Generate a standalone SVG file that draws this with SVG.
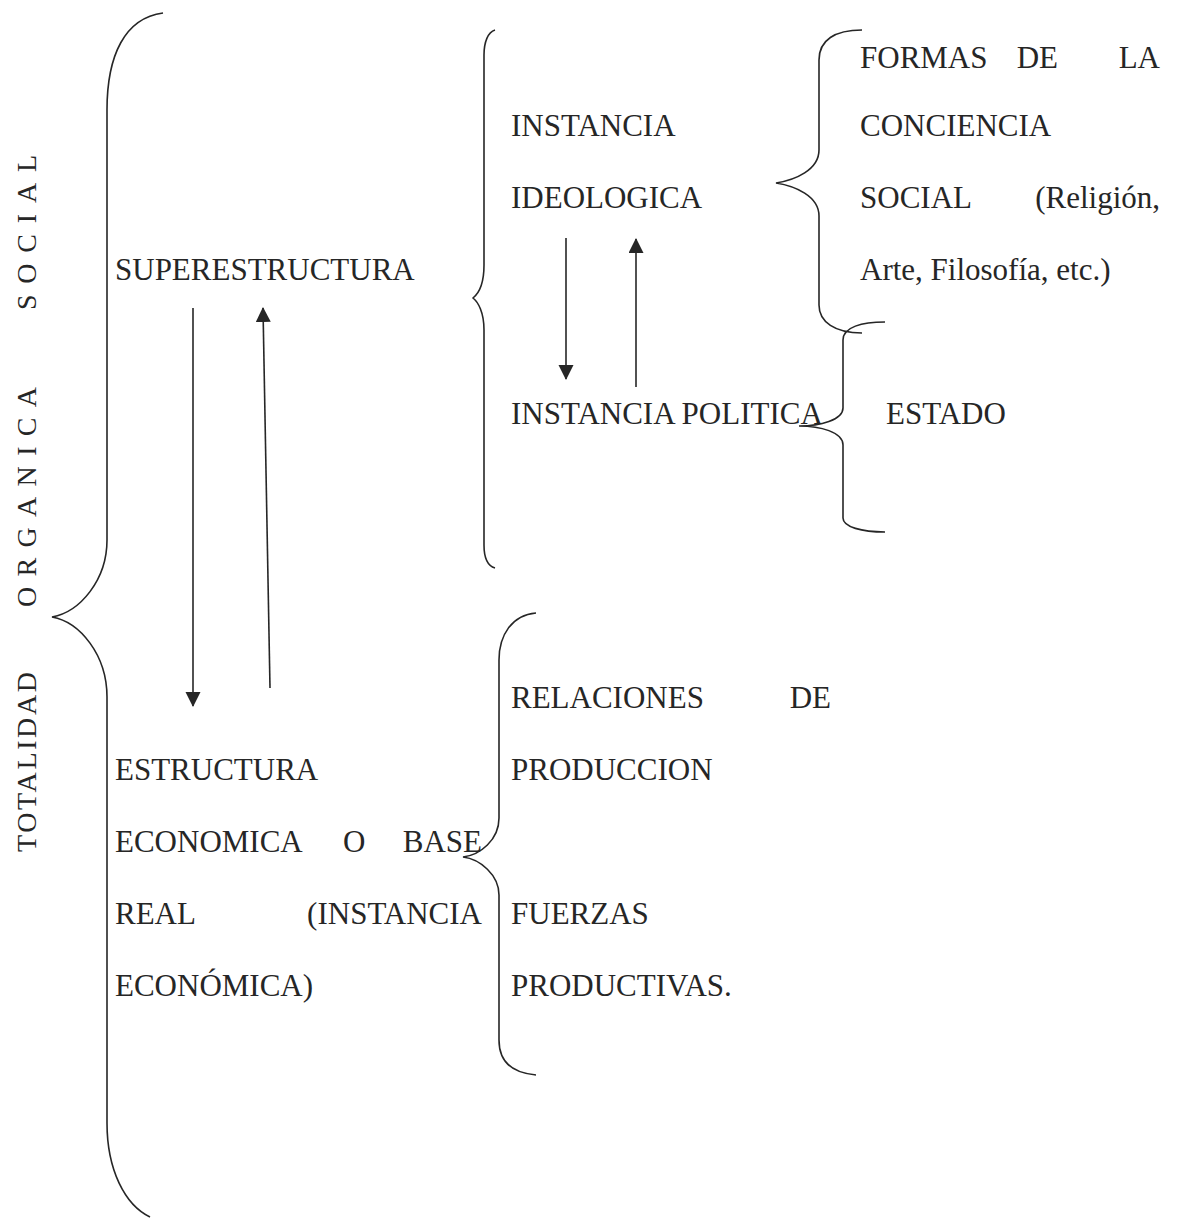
<svg xmlns="http://www.w3.org/2000/svg" width="1177" height="1218" viewBox="0 0 1177 1218">
<style>
  .t { font-family: "Liberation Serif", "Times New Roman", serif; font-size: 31px; fill: #262626; }
  .v { font-family: "Liberation Serif", "Times New Roman", serif; font-size: 28px; fill: #262626; }
  .br { fill: none; stroke: #262626; stroke-width: 1.6; }
  .ln { fill: none; stroke: #262626; stroke-width: 1.6; }
</style>
<defs>
  <marker id="ah" markerWidth="15" markerHeight="16" refX="14" refY="7.5" orient="auto" markerUnits="userSpaceOnUse">
    <path d="M0,0 L15,7.5 L0,15 Z" fill="#262626"/>
  </marker>
</defs>
<rect width="1177" height="1218" fill="#ffffff"/>

<g id="vertical-title">
  <text class="v" transform="rotate(-90)" x="-852" y="36" textLength="180" lengthAdjust="spacing">TOTALIDAD</text>
  <text class="v" transform="rotate(-90)" x="-607" y="36" textLength="220" lengthAdjust="spacing">ORGANICA</text>
  <text class="v" transform="rotate(-90)" x="-310" y="36" textLength="155" lengthAdjust="spacing">SOCIAL</text>
</g>

<g id="braces">
  <path id="brace-main" class="br" d="M163,13 C125,18 107,55 107,110 L107,540 C107,580 80,612 52,617 C80,622 107,655 107,697 L107,1123 C107,1170 125,1205 150,1217"/>
  <path id="brace-super" class="br" d="M495,30 C488,32 484,42 484,55 L484,265 C484,285 478,294 473,298 C478,302 484,312 484,330 L484,545 C484,558 488,566 495,568"/>
  <path id="brace-formas" class="br" d="M862,30 C835,30 819,40 819,60 L819,150 C819,170 795,180 776,183 C795,186 819,196 819,216 L819,305 C819,322 835,333 862,333"/>
  <path id="brace-estado" class="br" d="M885,322 C862,322 843,327 843,340 L843,408 C843,420 820,426 799,426 C820,426 843,432 843,445 L843,518 C843,527 862,532 885,532"/>
  <path id="brace-base" class="br" d="M536,613 C512,615 499,635 499,660 L499,818 C499,840 480,855 463,857 C480,859 499,875 499,895 L499,1040 C499,1062 512,1073 536,1075"/>
</g>

<g id="connectors">
  <line class="ln" x1="193" y1="308" x2="193" y2="706" marker-end="url(#ah)"/>
  <line class="ln" x1="270" y1="688" x2="263" y2="308" marker-end="url(#ah)"/>
  <line class="ln" x1="566" y1="238" x2="566" y2="379" marker-end="url(#ah)"/>
  <line class="ln" x1="636" y1="387" x2="636" y2="239" marker-end="url(#ah)"/>
</g>

<g id="superestructura">
  <text class="t" x="115" y="280">SUPERESTRUCTURA</text>
</g>

<g id="instancia-ideologica">
  <text class="t" x="511" y="136">INSTANCIA</text>
  <text class="t" x="511" y="208">IDEOLOGICA</text>
</g>

<g id="formas-conciencia">
  <text class="t" x="860" y="68">FORMAS</text>
  <text class="t" x="1058" y="68" text-anchor="end">DE</text>
  <text class="t" x="1160" y="68" text-anchor="end">LA</text>
  <text class="t" x="860" y="136">CONCIENCIA</text>
  <text class="t" x="860" y="208">SOCIAL</text>
  <text class="t" x="1160" y="208" text-anchor="end">(Religión,</text>
  <text class="t" x="860" y="280">Arte, Filosofía, etc.)</text>
</g>

<g id="instancia-politica">
  <text class="t" x="511" y="424">INSTANCIA POLITICA</text>
</g>

<g id="estado">
  <text class="t" x="886" y="424">ESTADO</text>
</g>

<g id="estructura">
  <text class="t" x="115" y="780">ESTRUCTURA</text>
  <text class="t" x="115" y="852">ECONOMICA</text>
  <text class="t" x="343" y="852">O</text>
  <text class="t" x="482" y="852" text-anchor="end">BASE</text>
  <text class="t" x="115" y="924">REAL</text>
  <text class="t" x="482" y="924" text-anchor="end">(INSTANCIA</text>
  <text class="t" x="115" y="996">ECONÓMICA)</text>
</g>

<g id="relaciones">
  <text class="t" x="511" y="708">RELACIONES</text>
  <text class="t" x="831" y="708" text-anchor="end">DE</text>
  <text class="t" x="511" y="780">PRODUCCION</text>
</g>

<g id="fuerzas">
  <text class="t" x="511" y="924">FUERZAS</text>
  <text class="t" x="511" y="996">PRODUCTIVAS.</text>
</g>
</svg>
